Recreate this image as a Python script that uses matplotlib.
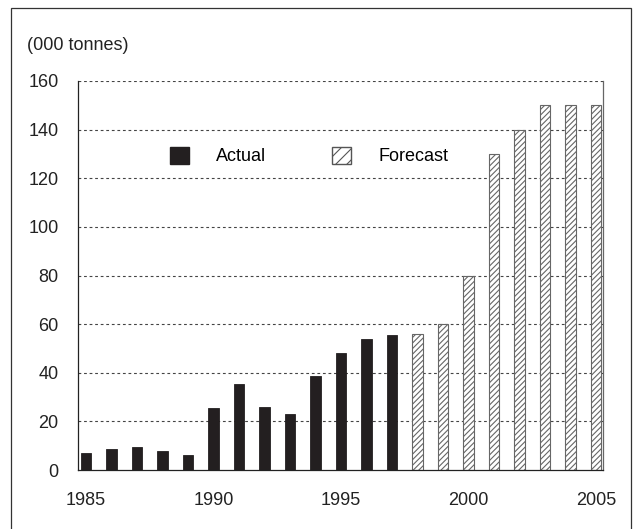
import numpy as np
import matplotlib
matplotlib.use("Agg")
import matplotlib.pyplot as plt
from matplotlib.patches import Patch, Rectangle

plt.rcParams['font.family'] = ['Liberation Sans', 'DejaVu Sans']
plt.rcParams['hatch.linewidth'] = 0.8

# daten
jahre_ist = [1985, 1986, 1987, 1988, 1989, 1990, 1991, 1992, 1993, 1994, 1995, 1996, 1997]
werte_ist = [7.1, 8.8, 9.5, 7.7, 6.2, 25.4, 35.5, 25.9, 23.0, 38.7, 48.1, 54.0, 55.6]
jahre_prognose = [1998, 1999, 2000, 2001, 2002, 2003, 2004, 2005]
werte_prognose = [56, 60, 80, 130, 140, 150, 150, 150]
xticks = [1985, 1990, 1995, 2000, 2005]
yticks = [0, 20, 40, 60, 80, 100, 120, 140, 160]

fs = 13

fig = plt.figure(figsize=(6.34, 5.29), dpi=100)
ax = fig.add_axes([0.123, 0.1115, 0.8286, 0.7354])

for y in yticks[1:]:
    ax.axhline(y, color='#444444', lw=0.8, ls=(0, (2.5, 2.5)), zorder=1)

ax.bar(jahre_ist, werte_ist, width=0.41, color='#231f20', edgecolor='#231f20', lw=0.6, zorder=2)
ax.bar(jahre_prognose, werte_prognose, width=0.41, color='white', edgecolor='#666666',
       hatch='//////', lw=0.8, zorder=2)

ax.set_xlim(1984.69, 2005.28)
ax.set_ylim(0, 160)
ax.set_xticks(xticks)
ax.set_yticks(yticks)
ax.tick_params(length=0, labelsize=fs, colors='#222222')
ax.tick_params(axis='y', pad=14)
ax.tick_params(axis='x', pad=16)

ax.spines['top'].set_visible(False)
ax.spines['right'].set_color('#666666')
ax.spines['left'].set_color('#222222')
ax.spines['bottom'].set_color('#222222')
for s in ax.spines.values():
    s.set_linewidth(0.9)

handles = [Patch(facecolor='#231f20', edgecolor='#231f20', label='Actual'),
           Patch(facecolor='white', edgecolor='#555555', hatch='///', label='Forecast')]
ax.legend(handles=handles, loc='center left', bbox_to_anchor=(0.175, 0.807), ncol=2,
          frameon=False, fontsize=fs, handlelength=1.05, handleheight=1.05,
          handletextpad=1.5, columnspacing=3.65, borderpad=0, borderaxespad=0)

fig.text(27 / 634, 1 - 45 / 529, '(000 tonnes)', fontsize=fs, ha='left', va='center', color='#222222')

# rahmen
fig.add_artist(Rectangle((11 / 634, -0.01), 620 / 634, 1.01 - 8 / 529, transform=fig.transFigure,
                         fill=False, edgecolor='#333333', lw=0.9))

fig.savefig('out.png', dpi=100)
